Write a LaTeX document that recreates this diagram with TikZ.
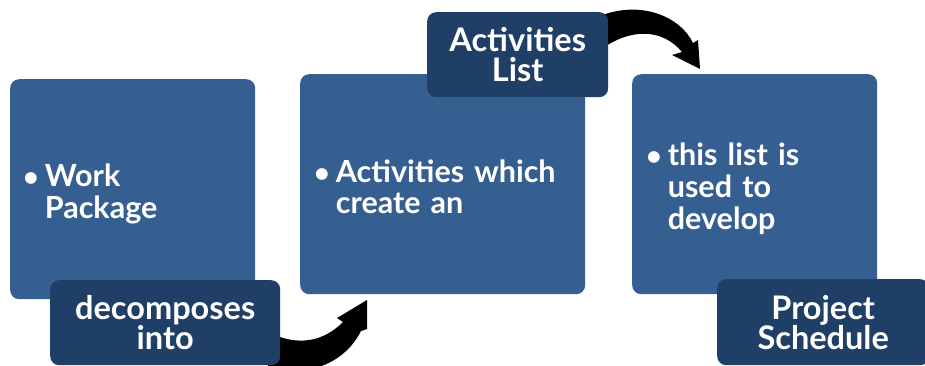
\documentclass[tikz,border=0pt]{standalone}
\usepackage{fontspec}
\setmainfont{Lato}
\definecolor{boxblue}{HTML}{365F91}
\definecolor{tagblue}{HTML}{1F3F66}
\newcommand{\bulletlines}[1]{\begin{tabular}{@{}l@{\hspace{6pt}}l@{}}{\fontsize{27}{27}\selectfont\textbullet} & #1\end{tabular}\par\vspace*{-14pt}}
\begin{document}
\begin{tikzpicture}[x=1pt,y=-1pt,
  stagebox/.style={fill=boxblue, rounded corners=9pt, anchor=north west, text=white,
    font=\fontsize{30.5}{31}\selectfont\bfseries, align=left, inner xsep=13pt, inner ysep=0pt},
  tagbox/.style={fill=tagblue, rounded corners=9pt, anchor=north west, text=white,
    font=\fontsize{32.5}{30}\selectfont\bfseries, align=center, inner sep=0pt},
  blockarrow/.style={fill=black}]
\useasboundingbox (0,0) rectangle (925,365);
\clip (0,0) rectangle (925,365);
% stage boxes
\node[stagebox, minimum width=245pt, minimum height=220pt, text width=219pt] (wp) at (10,79)
  {\bulletlines{Work\\ & Package}};
\node[stagebox, minimum width=285pt, minimum height=220pt, text width=257pt, inner xsep=14pt] (act) at (300,74)
  {\bulletlines{Activities which\\ & create an}};
\node[stagebox, minimum width=245pt, minimum height=220pt, text width=217pt, inner xsep=14pt] (use) at (632,74)
  {\bulletlines{this list is\\ & used to\\ & develop}};
% block arrows
\coordinate (a1tail) at (268,332);
\coordinate (a1tip) at (367,300);
\fill[blockarrow] (a1tail) .. controls (300,348) and (325,340) .. (343,322)
  -- (337,318) -- (a1tip) -- (367,329) -- (361,331)
  .. controls (345,362) and (315,374) .. (268,374) -- cycle;
\coordinate (a2tail) at (600,16);
\coordinate (a2tip) at (700,69);
\fill[blockarrow] (a2tail) .. controls (640,0) and (680,16) .. (693,43)
  -- (698,40) -- (a2tip) -- (672,55) -- (682,52)
  .. controls (662,28) and (630,28) .. (600,50) -- cycle;
% tags
\node[tagbox, minimum width=230pt, minimum height=85pt] (decomp) at (50,280) {decomposes\\into};
\node[tagbox, minimum width=181pt, minimum height=85pt] (list) at (427,12) {Activities\\List};
\node[tagbox, minimum width=212pt, minimum height=86pt] (sched) at (717,279) {Project\\Schedule};
\end{tikzpicture}
\end{document}
